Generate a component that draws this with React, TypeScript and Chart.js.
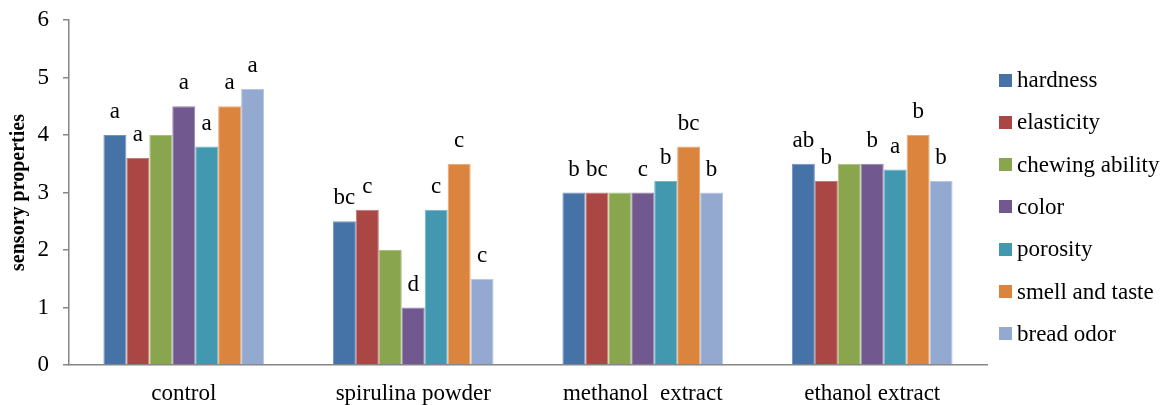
import React, { useEffect, useRef } from 'react';
import { Chart, registerables } from 'chart.js';

Chart.register(...registerables);

const FONT = "'Liberation Serif', 'Times New Roman', serif";

const categories = ['control', 'spirulina powder', 'methanol  extract', 'ethanol extract'];
const yTicks = [0, 1, 2, 3, 4, 5, 6];
const yTitle = 'sensory properties';

const seriesNames = ['hardness', 'elasticity', 'chewing ability', 'color', 'porosity', 'smell and taste', 'bread odor'];
const seriesColors = ['#4572A7', '#AA4643', '#89A54E', '#71588F', '#4198AF', '#DB843D', '#93A9CF'];
const seriesBorders = ['#7394bf', '#c37875', '#a9c07e', '#9682ad', '#74b6c8', '#e8a874', '#b6c5e2'];

const hardness = [4.0, 2.5, 3.0, 3.5];
const elasticity = [3.6, 2.7, 3.0, 3.2];
const chewingAbility = [4.0, 2.0, 3.0, 3.5];
const color = [4.5, 1.0, 3.0, 3.5];
const porosity = [3.8, 2.7, 3.2, 3.4];
const smellAndTaste = [4.5, 3.5, 3.8, 4.0];
const breadOdor = [4.8, 1.5, 3.0, 3.2];

const hardnessSig = ['a', 'bc', 'b', 'ab'];
const elasticitySig = ['a', 'c', 'bc', 'b'];
const chewingSig = ['', '', '', ''];
const colorSig = ['a', 'd', 'c', 'b'];
const porositySig = ['a', 'c', 'b', 'a'];
const smellSig = ['a', 'c', 'bc', 'b'];
const breadSig = ['a', 'c', 'b', 'b'];

const seriesValues = [hardness, elasticity, chewingAbility, color, porosity, smellAndTaste, breadOdor];
const seriesSig = [hardnessSig, elasticitySig, chewingSig, colorSig, porositySig, smellSig, breadSig];

const sigPlugin = {
  id: 'sigLetters',
  afterDatasetsDraw(chart: any) {
    const ctx = chart.ctx;
    ctx.save();
    ctx.font = `23px ${FONT}`;
    ctx.fillStyle = '#000';
    ctx.textAlign = 'center';
    ctx.textBaseline = 'alphabetic';
    chart.data.datasets.forEach((ds: any, i: number) => {
      const meta = chart.getDatasetMeta(i);
      meta.data.forEach((el: any, j: number) => {
        const t = seriesSig[i][j];
        if (t) ctx.fillText(t, el.x, el.y - 17);
      });
    });
    ctx.restore();
  },
};

export default function App() {
  const canvasRef = useRef<HTMLCanvasElement | null>(null);

  useEffect(() => {
    if (!canvasRef.current) return;
    const chart = new Chart(canvasRef.current, {
      type: 'bar',
      data: {
        labels: categories,
        datasets: seriesNames.map((name, i) => ({
          label: name,
          data: seriesValues[i],
          backgroundColor: seriesColors[i],
          borderColor: seriesBorders[i],
          borderWidth: 1,
          barPercentage: 1,
          categoryPercentage: 0.7,
        })),
      },
      options: {
        animation: false,
        responsive: true,
        maintainAspectRatio: false,
        layout: { padding: { left: 0, right: 181, top: 20, bottom: 0 } },
        plugins: {
          legend: { display: false },
          tooltip: { enabled: false },
        },
        scales: {
          x: {
            grid: { display: false },
            border: { display: true, color: '#868686', width: 1.5 },
            ticks: { color: '#000', font: { family: FONT, size: 23 }, padding: 7, maxRotation: 0, autoSkip: false },
            afterFit: (s: any) => { s.height = 40; s.paddingLeft = 0; s.paddingRight = 0; },
          },
          y: {
            min: 0,
            max: 6,
            afterBuildTicks: (s: any) => { s.ticks = yTicks.map((v) => ({ value: v })); },
            grid: { drawOnChartArea: false, drawTicks: true, tickLength: 6, color: '#868686', lineWidth: 1.5 },
            border: { display: true, color: '#868686', width: 1.5 },
            ticks: { color: '#000', font: { family: FONT, size: 23 }, padding: 14 },
            title: { display: true, text: yTitle, color: '#000', font: { family: FONT, size: 20, weight: 'bold' }, padding: { top: 7, bottom: 0 } },
            afterFit: (s: any) => { s.width = 69; s.paddingTop = 0; s.paddingBottom = 0; },
          },
        },
      },
      plugins: [sigPlugin],
    } as any);
    return () => chart.destroy();
  }, []);

  return (
    <div style={{ position: 'fixed', left: 0, top: 0, width: 1168, height: 405, background: '#fff' }}>
      <canvas ref={canvasRef} />
      {seriesNames.map((name, i) => (
        <div
          key={name}
          style={{
            position: 'absolute',
            left: 999,
            top: 80 + i * 42.3 - 14,
            height: 28,
            display: 'flex',
            alignItems: 'center',
            fontFamily: FONT,
            fontSize: 23,
            color: '#000',
            whiteSpace: 'nowrap',
          }}
        >
          <span style={{ display: 'inline-block', width: 13, height: 13, background: seriesColors[i], marginRight: 5 }} />
          <span>{name}</span>
        </div>
      ))}
    </div>
  );
}
